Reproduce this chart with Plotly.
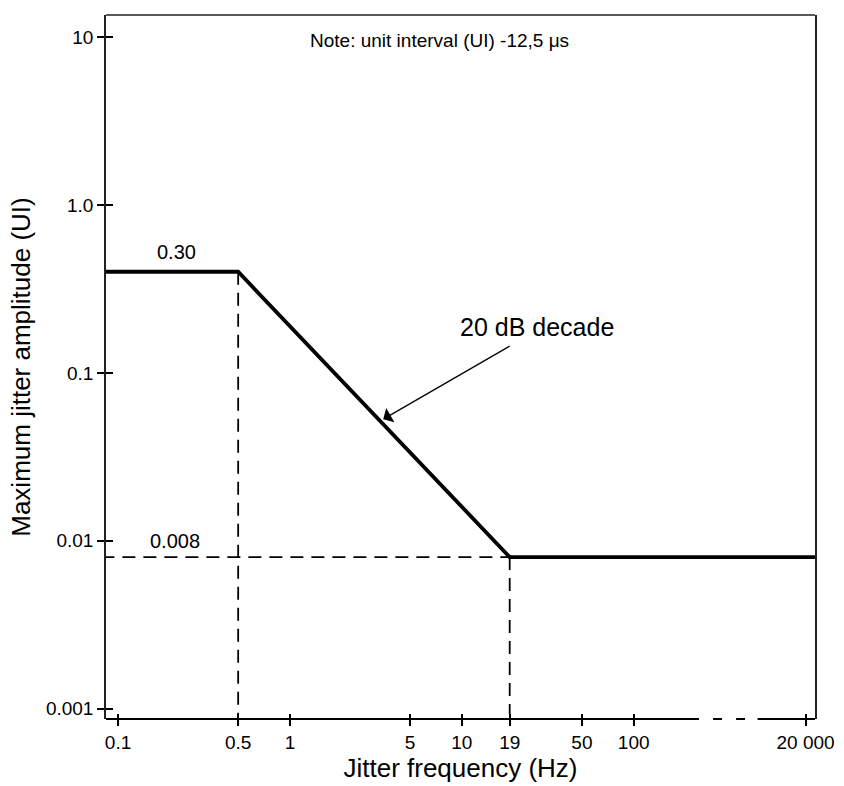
import math
import plotly.graph_objects as go

# ---------------- data ----------------
tick_freqs = [0.1, 0.5, 1, 5, 10, 19, 50, 100, 20000]
tick_labels = ["0.1", "0.5", "1", "5", "10", "19", "50", "100", "20 000"]
amp_ticks = [10, 1.0, 0.1, 0.01, 0.001]
amp_labels = ["10", "1.0", "0.1", "0.01", "0.001"]

mask_freq = [0.08, 0.5, 19, 25000]
mask_amp = [0.4, 0.4, 0.008, 0.008]

corner_low_f = 0.5
corner_high_f = 19
plateau_high = 0.4
plateau_low = 0.008

FONT = "Liberation Sans, Arial, sans-serif"

# broken frequency axis: values above the break are shifted so 20 000 sits one decade after 100
BREAK_SHIFT = math.log10(20)


def xpos(f):
    return math.log10(f) if f < 1000 else math.log10(f) - BREAK_SHIFT


XR = [-1.07, 3.055]
YR = [-3.061, 1.131]

fig = go.Figure()

# dashed guide lines
dash_style = dict(color="black", width=1.8, dash="13px,8px")
fig.add_trace(go.Scatter(x=[xpos(0.08), xpos(corner_high_f)], y=[plateau_low, plateau_low],
                         mode="lines", line=dash_style, hoverinfo="skip", showlegend=False))
fig.add_trace(go.Scatter(x=[xpos(corner_low_f), xpos(corner_low_f)], y=[plateau_high, 0.00093],
                         mode="lines", line=dash_style, hoverinfo="skip", showlegend=False))
fig.add_trace(go.Scatter(x=[xpos(corner_high_f), xpos(corner_high_f)], y=[plateau_low, 0.00093],
                         mode="lines", line=dash_style, hoverinfo="skip", showlegend=False))

# mask
fig.add_trace(go.Scatter(x=[xpos(f) for f in mask_freq], y=mask_amp, mode="lines",
                         line=dict(color="black", width=3.8), showlegend=False))

# dummy trace for overlay axes (inner tick halves)
fig.add_trace(go.Scatter(x=[xpos(1)], y=[1], xaxis="x2", yaxis="y2", mode="markers",
                         marker=dict(opacity=0), hoverinfo="skip", showlegend=False))

tickfont = dict(family=FONT, size=19, color="black")

fig.update_layout(
    width=844, height=786,
    margin=dict(l=106, r=29, t=15, b=67),
    paper_bgcolor="white", plot_bgcolor="white",
    showlegend=False,
    xaxis=dict(
        type="linear", range=XR, showgrid=False, zeroline=False, showline=False,
        tickmode="array", tickvals=[xpos(f) for f in tick_freqs], ticktext=tick_labels,
        ticks="outside", ticklen=6, tickwidth=2, tickcolor="black", tickfont=tickfont,
        title=dict(text="Jitter frequency (Hz)", font=dict(family=FONT, size=26, color="black"),
                   standoff=6),
        automargin=False,
    ),
    xaxis2=dict(
        type="linear", range=XR, overlaying="x", showgrid=False, zeroline=False, showline=False,
        tickmode="array", tickvals=[xpos(f) for f in tick_freqs], showticklabels=False,
        ticks="inside", ticklen=5, tickwidth=2, tickcolor="black", side="bottom",
    ),
    yaxis=dict(
        type="log", range=YR, showgrid=False, zeroline=False,
        showline=True, mirror=True, linecolor="#222", linewidth=1.5,
        tickmode="array", tickvals=amp_ticks, ticktext=amp_labels,
        ticks="outside", ticklen=7, tickwidth=2, tickcolor="black", tickfont=tickfont,
        title=dict(text="Maximum jitter amplitude (UI)", font=dict(family=FONT, size=26, color="black"),
                   standoff=8),
        automargin=False,
    ),
    yaxis2=dict(
        type="log", range=YR, overlaying="y", showgrid=False, zeroline=False, showline=False,
        tickmode="array", tickvals=amp_ticks, showticklabels=False,
        ticks="inside", ticklen=7, tickwidth=2, tickcolor="black", side="left",
    ),
)

# frame: top line + broken bottom axis
fig.add_shape(type="line", xref="paper", yref="paper", x0=0, x1=1, y0=1, y1=1,
              line=dict(color="#222", width=1.5))
bx0, bx1 = 2.38, 2.721  # break region in axis units
segments = [(XR[0], bx0), (2.462, 2.514), (2.596, 2.648), (bx1, XR[1])]
for a, b in segments:
    fig.add_shape(type="line", xref="x", yref="paper", x0=a, x1=b, y0=0, y1=0,
                  line=dict(color="black", width=2))

# annotations
def label(x, y, text, size):
    fig.add_annotation(xref="paper", yref="paper", x=x, y=y, text=text, showarrow=False,
                       xanchor="center", yanchor="middle",
                       font=dict(family=FONT, size=size, color="black"))


label(0.471, 0.964, "Note: unit interval (UI) -12,5 μs", 19)
label(0.099, 0.6636, "0.30", 20)
label(0.0973, 0.2535, "0.008", 20)
label(0.6085, 0.5568, "20 dB decade", 25)

fig.add_annotation(x=xpos(3.49), y=math.log10(0.053), xref="x", yref="y", text="",
                   showarrow=True, ax=128, ay=-74, arrowhead=1, arrowsize=2.1,
                   arrowwidth=1.3, arrowcolor="black")

fig.write_html("out.html")
